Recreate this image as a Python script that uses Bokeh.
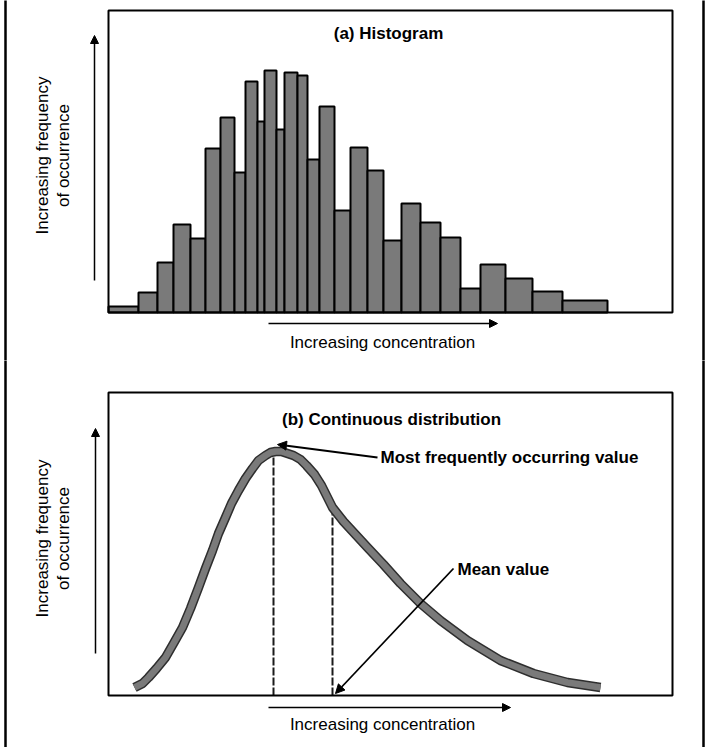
from bokeh.plotting import figure
from bokeh.layouts import column
from bokeh.models import Range1d, Label, Arrow, NormalHead, BoxAnnotation
from bokeh.embed import file_html
from bokeh.resources import INLINE

# ---------------- data (arbitrary concentration / frequency units) ----------------
# (a) histogram: bin edges along concentration axis and bar heights (frequency)
bin_edges = [0.0, 3.0, 4.9, 6.5, 8.2, 9.7, 11.2, 12.6, 13.7, 14.9, 15.6, 16.8, 17.6,
             18.9, 19.9, 21.1, 22.6, 24.2, 25.9, 27.5, 29.3, 31.2, 33.2, 35.2, 37.2,
             39.7, 42.4, 45.4, 49.9]
bar_heights = [0.6, 2.0, 5.0, 8.8, 7.4, 16.4, 19.5, 14.0, 23.1, 19.1, 24.2, 18.3, 24.0,
               23.7, 15.3, 20.6, 10.2, 16.5, 14.2, 7.2, 10.9, 9.0, 7.5, 2.4, 4.8, 3.4,
               2.1, 1.2]

# (b) continuous distribution curve
curve_x = [2.6, 3.4, 4.0, 4.8, 5.7, 6.5, 7.4, 8.2, 9.0, 9.7, 10.4, 11.0, 11.7, 12.3,
           13.0, 13.7, 14.4, 15.0, 15.7, 16.2, 16.7, 17.3, 17.9, 18.5, 19.2, 19.8,
           20.6, 21.3, 22.4, 23.5, 24.7, 25.9, 27.5, 29.2, 31.2, 33.2, 35.9, 39.2,
           42.5, 45.9, 49.2]
curve_y = [0.8, 1.2, 1.8, 2.7, 3.8, 5.2, 6.8, 8.7, 10.8, 12.7, 14.5, 16.2, 17.8, 19.2,
           20.5, 21.7, 22.7, 23.5, 24.0, 24.3, 24.4, 24.4, 24.2, 24.0, 23.6, 23.0,
           22.1, 21.0, 18.8, 17.4, 16.1, 14.8, 13.1, 11.2, 9.2, 7.5, 5.5, 3.5, 2.2,
           1.3, 0.8]
mode_x, mode_y = 16.5, 24.3
mean_x, mean_y = 22.4, 18.8

# texts
title_a = "(a) Histogram"
title_b = "(b) Continuous distribution"
ylab1 = "Increasing frequency"
ylab2 = "of occurrence"
xlab = "Increasing concentration"
note_mode = "Most frequently occurring value"
note_mean = "Mean value"

FONT = "Liberation Sans"
GRAY = "#7a7a7a"
X_MIN, X_MAX = -10.8, 59.7      # plotting window around the 0..56.4 chart box
X_BOX = 56.4


def base_fig(height, y_lo, y_hi, box_top):
    p = figure(width=705, height=height, output_backend="svg", toolbar_location=None,
               x_range=Range1d(X_MIN, X_MAX), y_range=Range1d(y_lo, y_hi),
               x_axis_location=None, y_axis_location=None,
               min_border_left=0, min_border_right=0,
               min_border_top=0, min_border_bottom=0)
    p.grid.visible = False
    p.outline_line_color = None
    p.background_fill_color = "white"
    p.border_fill_color = "white"
    # chart box
    p.add_layout(BoxAnnotation(left=0, right=X_BOX, bottom=0, top=box_top,
                               fill_alpha=0, line_color="black", line_alpha=1.0,
                               line_width=2, level="overlay"))
    # outer page frame (left / right rules)
    p.segment(x0=[-10.3, 59.5], y0=[y_lo - 1, y_lo - 1], x1=[-10.3, 59.5],
              y1=[y_hi + 1, y_hi + 1], line_color="black", line_width=2.5)
    return p


def txt(p, x, y, text, align="center", bold=False, angle=0):
    p.add_layout(Label(x=x, y=y, text=text, angle=angle, angle_units="deg",
                       text_align=align, text_baseline="middle", text_font=FONT,
                       text_font_style="bold" if bold else "normal",
                       text_font_size="17px", text_color="black"))


def arrow(p, x0, y0, x1, y1, width=1.5, size=8):
    p.add_layout(Arrow(x_start=x0, y_start=y0, x_end=x1, y_end=y1,
                       line_width=width, line_color="black",
                       end=NormalHead(size=size, fill_color="black", line_color="black")))


def side_labels(p, ymid, ax_bottom, ax_top, yarrow_x, xarrow_y, xarrow_end, xlab_y):
    txt(p, -6.6, ymid, ylab1, angle=90)
    txt(p, -4.5, ymid, ylab2, angle=90)
    arrow(p, yarrow_x, ax_bottom, yarrow_x, ax_top)
    arrow(p, 16.0, xarrow_y, xarrow_end, xarrow_y)
    txt(p, 27.4, xlab_y, xlab)


# ---------------- (a) histogram ----------------
pa = base_fig(360, -4.8, 31.2, 30.2)
pa.quad(left=bin_edges[:-1], right=bin_edges[1:], bottom=0, top=bar_heights,
        fill_color=GRAY, line_color="black", line_width=2)
txt(pa, 28.0, 27.9, title_a, bold=True)
side_labels(pa, 15.7, 3.2, 27.7, -1.4, -1.1, 38.9, -3.0)

# ---------------- (b) continuous distribution ----------------
pb = base_fig(387, -5.2, 33.5, 30.3)
pb.segment(x0=[mode_x, mean_x], y0=[0, 0], x1=[mode_x, mean_x], y1=[mode_y, mean_y],
           line_color="#1a1a1a", line_width=2, line_dash="8 2")
pb.line(curve_x, curve_y, line_color="#2e2e2e", line_width=9.5, line_cap="butt",
        line_join="round")
pb.line(curve_x, curve_y, line_color=GRAY, line_width=6.5, line_cap="butt",
        line_join="round")
txt(pb, 28.3, 27.6, title_b, bold=True)
txt(pb, 27.2, 23.8, note_mode, align="left", bold=True)
arrow(pb, 26.9, 23.8, 16.9, 25.1, width=1.8, size=9)
txt(pb, 34.9, 12.6, note_mean, align="left", bold=True)
arrow(pb, 34.5, 12.7, 22.7, 0.2, width=1.8, size=9)
side_labels(pb, 15.7, 4.2, 26.7, -1.3, -1.2, 40.2, -2.9)

layout = column(pa, pb, spacing=0)

open("out.html", "w").write(file_html(layout, INLINE))
